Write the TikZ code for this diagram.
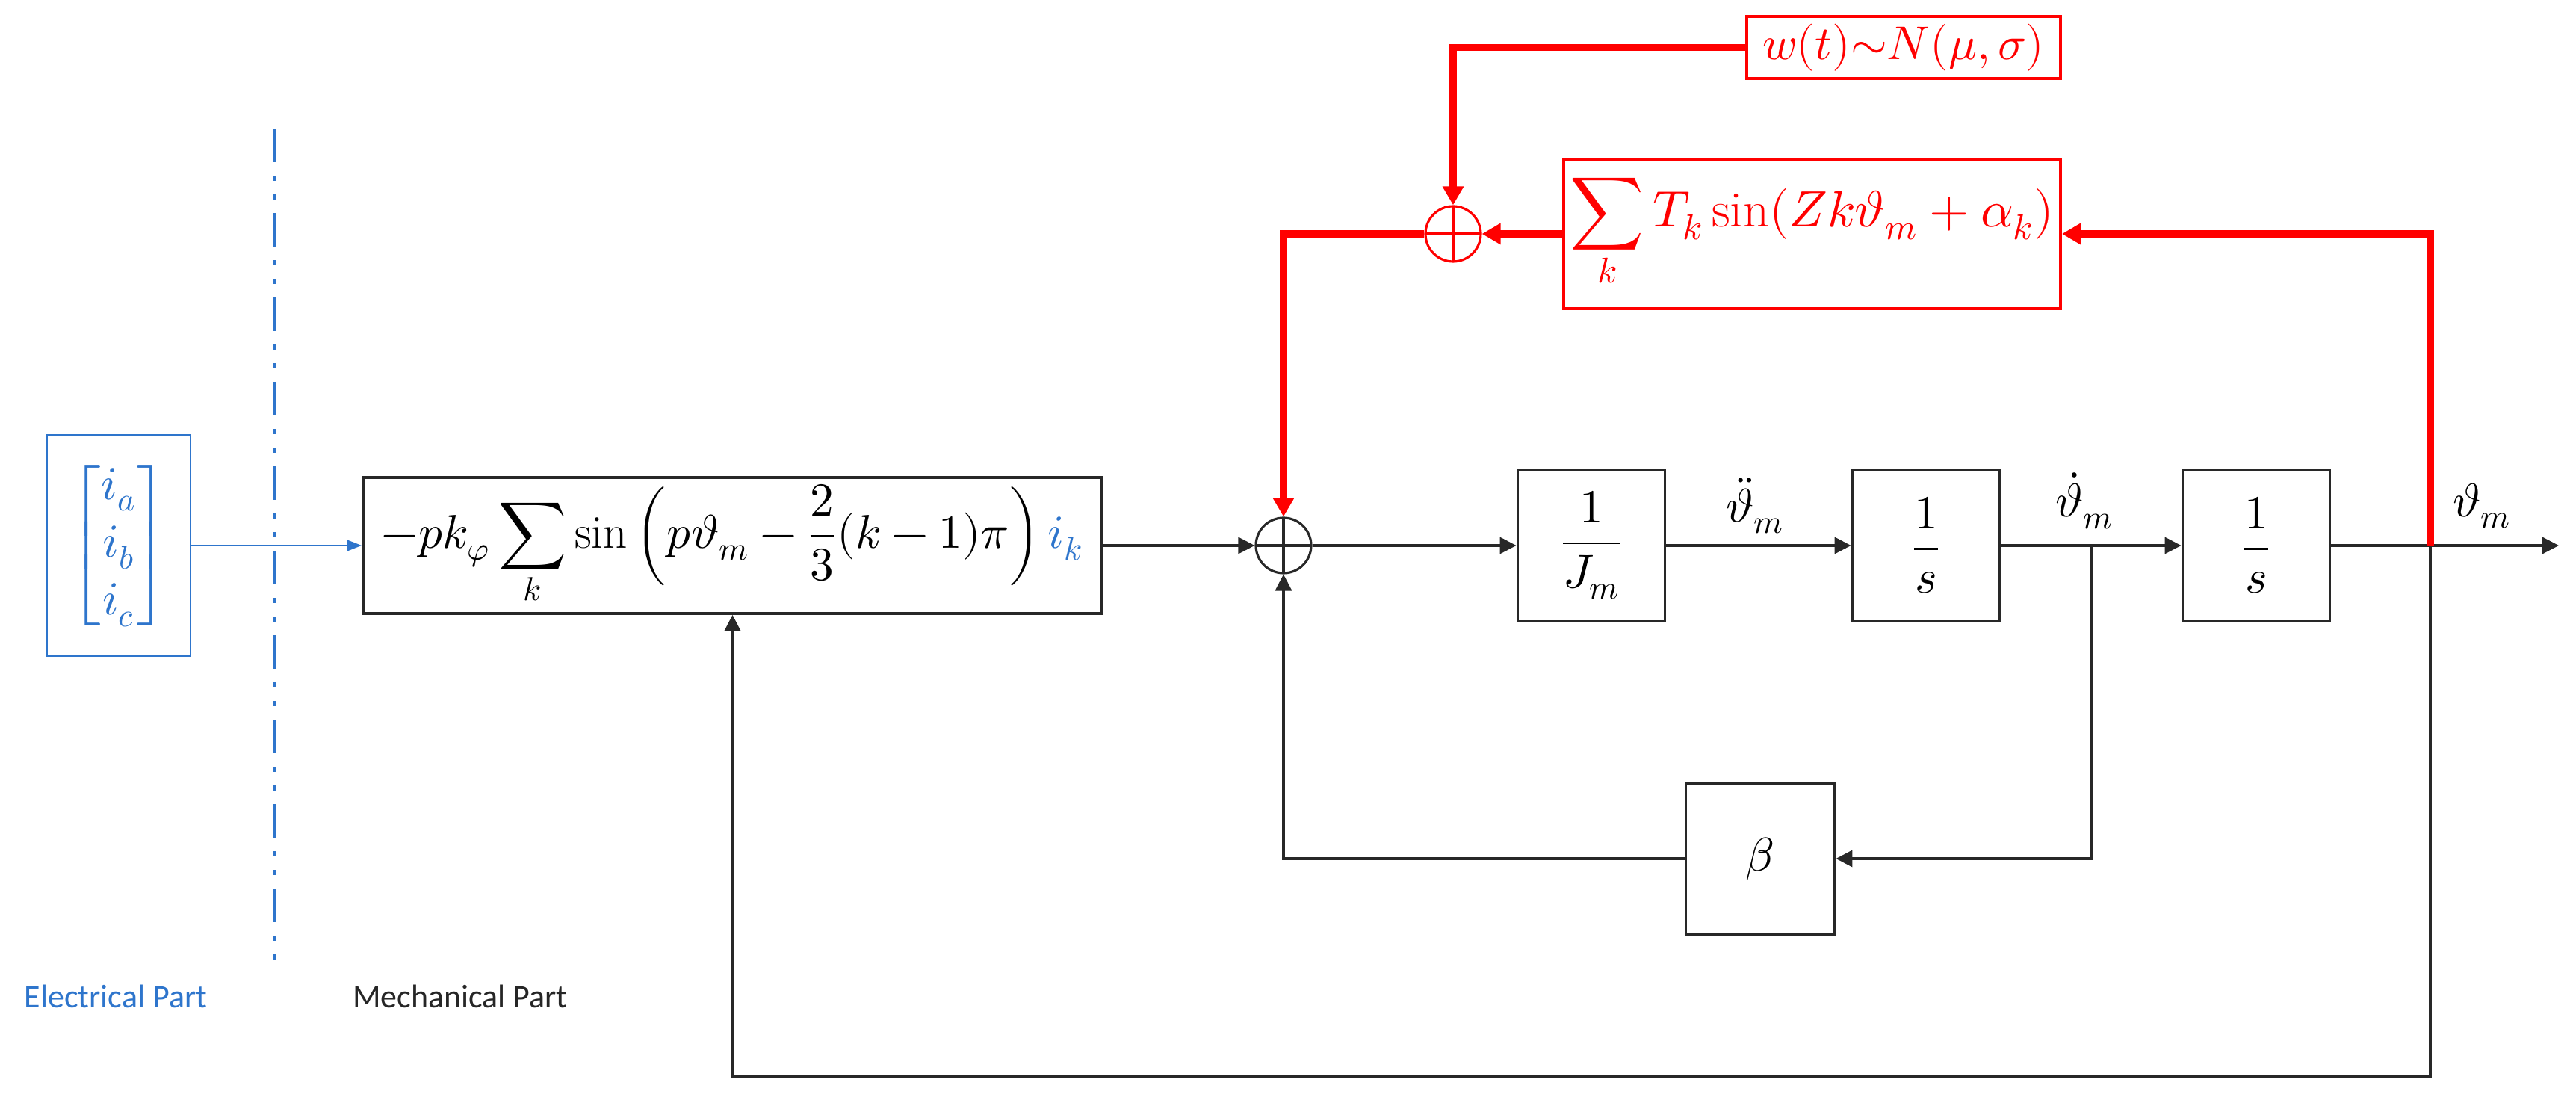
\documentclass[tikz,border=0pt]{standalone}
\usepackage{amsmath}
\usepackage{fontspec}
\usepackage{unicode-math}
\newfontfamily\partfont{Carlito}
\usetikzlibrary{arrows.meta}
\definecolor{elecblue}{RGB}{46,117,204}
\definecolor{pertred}{RGB}{255,0,0}
\definecolor{sigblack}{RGB}{40,40,40}
\tikzset{
  block/.style={draw=sigblack, line width=1.1pt, minimum width=1.97cm, minimum height=2.03cm, inner sep=0pt},
  redblock/.style={draw=pertred, line width=1.1pt, inner sep=0pt, text=pertred},
  sumnode/.style={circle, draw=#1, minimum size=0.74cm, inner sep=0pt, line width=0.9pt,
    path picture={\draw[#1, line width=0.9pt] (path picture bounding box.north) -- (path picture bounding box.south)
      (path picture bounding box.west) -- (path picture bounding box.east);}},
  sumnode/.default=sigblack,
  sig/.style={draw=sigblack, line width=0.95pt, -{Triangle[length=0.22cm,width=0.22cm]}},
  pert/.style={draw=pertred, line width=2.8pt, -{Triangle[length=0.25cm,width=0.27cm]}},
  elec/.style={draw=elecblue, line width=0.8pt, -{Triangle[length=0.2cm,width=0.15cm]}},
  partlabel/.style={font={\fontsize{12.5}{15}\partfont}}
}
\begin{document}
\begin{tikzpicture}[x=1cm, y=1cm, font=\fontsize{18}{22}\selectfont]
\useasboundingbox (0,0) rectangle (34.48,14.72);
% electrical part
\node[draw=elecblue, line width=0.8pt, minimum width=1.92cm, minimum height=2.96cm, inner sep=0pt, text=elecblue] (iabc) at (1.59,7.42)
  {$\begin{bmatrix} i_a\\ i_b\\ i_c \end{bmatrix}$};
\coordinate (divtop) at (3.68,13.00);
\coordinate (divbot) at (3.68,1.75);
\draw[elecblue, line width=1.4pt, dash pattern=on 0.45cm off 0.18cm on 0.07cm off 0.18cm on 0.07cm off 0.18cm] (divtop) -- (divbot);
\node[partlabel, text=elecblue] (elecpart) at (1.55,1.39) {Electrical Part};
\node[partlabel, text=black!85] (mechpart) at (6.16,1.39) {Mechanical Part};
% mechanical part
\node[block, minimum width=9.89cm, minimum height=1.82cm] (torque) at (9.805,7.42)
  {$\displaystyle -pk_{\varphi}\sum_{k}\sin\left(p\vartheta_m-\frac{2}{3}(k-1)\pi\right){\color{elecblue}i_k}$};
\node[sumnode] (sumA) at (17.18,7.42) {};
\node[block] (inertia) at (21.30,7.42) {$\dfrac{1}{J_m}$};
\node[block] (integ1) at (25.78,7.42) {$\dfrac{1}{s}$};
\node[block] (integ2) at (30.20,7.42) {$\dfrac{1}{s}$};
\node[block, minimum width=1.99cm, minimum height=2.02cm] (damp) at (23.56,3.23) {$\beta$};
\node (ddlab) at (23.49,7.95) {$\ddot{\vartheta}_m$};
\node (dlab) at (27.90,8.02) {$\dot{\vartheta}_m$};
\node (thlab) at (33.22,7.95) {$\vartheta_m$};
\coordinate (thdot) at (27.99,7.42);
\coordinate (thm) at (32.53,7.42);
\coordinate (out) at (34.25,7.42);
\coordinate (fbk) at (32.53,0.32);
% disturbance (red)
\node[redblock, minimum width=6.65cm, minimum height=2.00cm, font=\fontsize{19.5}{23}\selectfont] (cogging) at (24.255,11.59)
  {$\displaystyle\sum_{k} T_k\sin(Zk\vartheta_m+\alpha_k)$};
\node[redblock, minimum width=4.20cm, minimum height=0.83cm] (noise) at (25.48,14.085) {$w(t){\sim}N(\mu,\sigma)$};
\node[sumnode=pertred] (sumB) at (19.45,11.59) {};
% connections
\draw[elec] (iabc.east) -- (torque.west);
\draw[sig] (torque.east) -- (sumA.west);
\draw[sig] (sumA.east) -- (inertia.west);
\draw[sig] (inertia.east) -- (integ1.west);
\draw[sig] (integ1.east) -- (integ2.west);
\draw[sig] (integ2.east) -- (out);
\draw[sig] (thdot) |- (damp.east);
\draw[sig] (damp.west) -| (sumA.south);
\draw[sig] (thm) -- (fbk) -| (torque.south);
\draw[pert] (thm) |- (cogging.east);
\draw[pert] (cogging.west) -- (sumB.east);
\draw[pert] (noise.west) -| (sumB.north);
\draw[pert] (sumB.west) -| (sumA.north);
\end{tikzpicture}
\end{document}
